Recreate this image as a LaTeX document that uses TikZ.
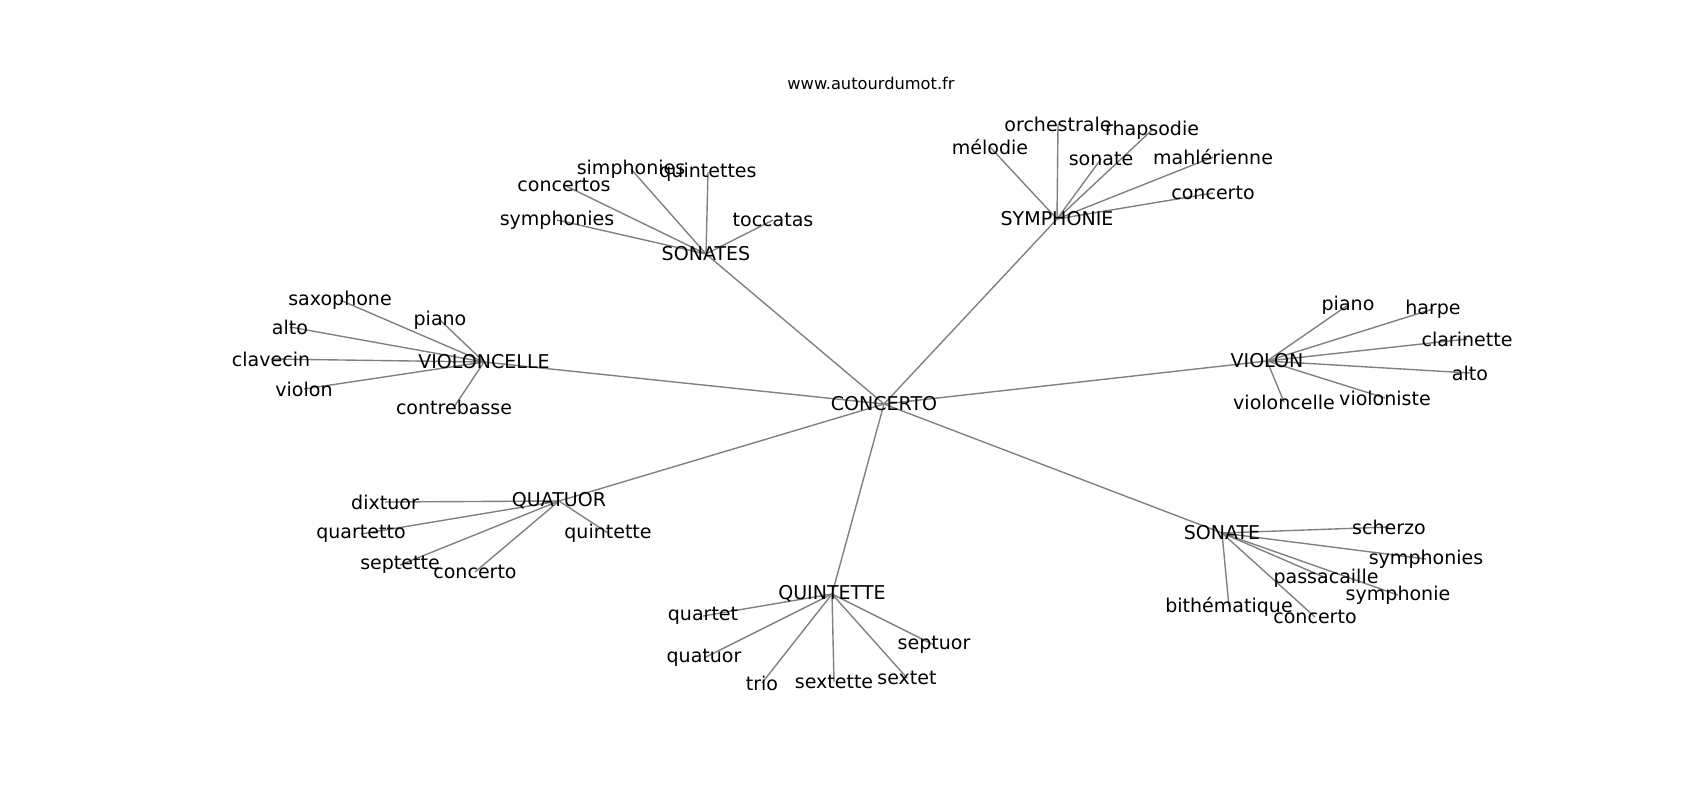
\documentclass[tikz,border=0pt]{standalone}
\usepackage{fontspec}
\setmainfont{DejaVu Sans}
\usetikzlibrary{backgrounds}

\tikzset{
	word/.style={inner sep=0pt, font=\fontsize{13.7}{16}\selectfont},
	edge/.style={draw=gray, line width=1pt},
}

\begin{document}
\begin{tikzpicture}[x=0.72pt, y=-0.72pt]
	\useasboundingbox (0,0) rectangle (1700,800);

	\node [inner sep=0pt, font=\fontsize{11.7}{14}\selectfont] (title) at (871,83) {www.autourdumot.fr};

	\node [word] (concerto) at (884,404) {CONCERTO};
	\node [word] (sonates) at (706,254) {SONATES};
	\node [word] (symphonie) at (1057,219) {SYMPHONIE};
	\node [word] (violoncelle) at (484,362) {VIOLONCELLE};
	\node [word] (violon) at (1267,361) {VIOLON};
	\node [word] (quatuor) at (559,501) {QUATUOR};
	\node [word] (quintette) at (832,594) {QUINTETTE};
	\node [word] (sonate) at (1222,533) {SONATE};

	\node [word] (so-symphonies) at (557,220) {symphonies};
	\node [word] (so-concertos) at (564,185) {concertos};
	\node [word] (so-simphonies) at (631,169) {simphonies};
	\node [word] (so-quintettes) at (708,172) {quintettes};
	\node [word] (so-toccatas) at (773,220) {toccatas};

	\node [word] (sy-melodie) at (990,147) {mélodie};
	\node [word] (sy-orchestrale) at (1058,124) {orchestrale};
	\node [word] (sy-rhapsodie) at (1152,130) {rhapsodie};
	\node [word] (sy-sonate) at (1101,159) {sonate};
	\node [word] (sy-mahlerienne) at (1213,157) {mahlérienne};
	\node [word] (sy-concerto) at (1213,193) {concerto};

	\node [word] (vc-saxophone) at (340,300) {saxophone};
	\node [word] (vc-piano) at (440,320) {piano};
	\node [word] (vc-alto) at (290,327) {alto};
	\node [word] (vc-clavecin) at (271,359) {clavecin};
	\node [word] (vc-violon) at (304,389) {violon};
	\node [word] (vc-contrebasse) at (454,407) {contrebasse};

	\node [word] (vn-piano) at (1348,305) {piano};
	\node [word] (vn-harpe) at (1433,309) {harpe};
	\node [word] (vn-clarinette) at (1467,339) {clarinette};
	\node [word] (vn-alto) at (1470,373) {alto};
	\node [word] (vn-violoncelle) at (1284,402) {violoncelle};
	\node [word] (vn-violoniste) at (1385,398) {violoniste};

	\node [word] (qa-dixtuor) at (385,502) {dixtuor};
	\node [word] (qa-quartetto) at (361,534) {quartetto};
	\node [word] (qa-quintette) at (608,533) {quintette};
	\node [word] (qa-septette) at (400,565) {septette};
	\node [word] (qa-concerto) at (475,572) {concerto};

	\node [word] (qi-quartet) at (703,616) {quartet};
	\node [word] (qi-quatuor) at (704,658) {quatuor};
	\node [word] (qi-trio) at (762,683) {trio};
	\node [word] (qi-sextette) at (834,682) {sextette};
	\node [word] (qi-sextet) at (907,678) {sextet};
	\node [word] (qi-septuor) at (934,645) {septuor};

	\node [word] (sn-scherzo) at (1389,527) {scherzo};
	\node [word] (sn-symphonies) at (1426,559) {symphonies};
	\node [word] (sn-passacaille) at (1326,578) {passacaille};
	\node [word] (sn-symphonie) at (1398,595) {symphonie};
	\node [word] (sn-bithematique) at (1229,607) {bithématique};
	\node [word] (sn-concerto) at (1315,617) {concerto};

	\begin{scope}[on background layer]
		\foreach \b in {sonates, symphonie, violoncelle, violon, quatuor, quintette, sonate}
			\draw [edge] (concerto.center) -- (\b.center);
		\foreach \b in {symphonies, concertos, simphonies, quintettes, toccatas}
			\draw [edge] (sonates.center) -- (so-\b.center);
		\foreach \b in {melodie, orchestrale, rhapsodie, sonate, mahlerienne, concerto}
			\draw [edge] (symphonie.center) -- (sy-\b.center);
		\foreach \b in {saxophone, piano, alto, clavecin, violon, contrebasse}
			\draw [edge] (violoncelle.center) -- (vc-\b.center);
		\foreach \b in {piano, harpe, clarinette, alto, violoncelle, violoniste}
			\draw [edge] (violon.center) -- (vn-\b.center);
		\foreach \b in {dixtuor, quartetto, quintette, septette, concerto}
			\draw [edge] (quatuor.center) -- (qa-\b.center);
		\foreach \b in {quartet, quatuor, trio, sextette, sextet, septuor}
			\draw [edge] (quintette.center) -- (qi-\b.center);
		\foreach \b in {scherzo, symphonies, passacaille, symphonie, bithematique, concerto}
			\draw [edge] (sonate.center) -- (sn-\b.center);
	\end{scope}
\end{tikzpicture}
\end{document}
